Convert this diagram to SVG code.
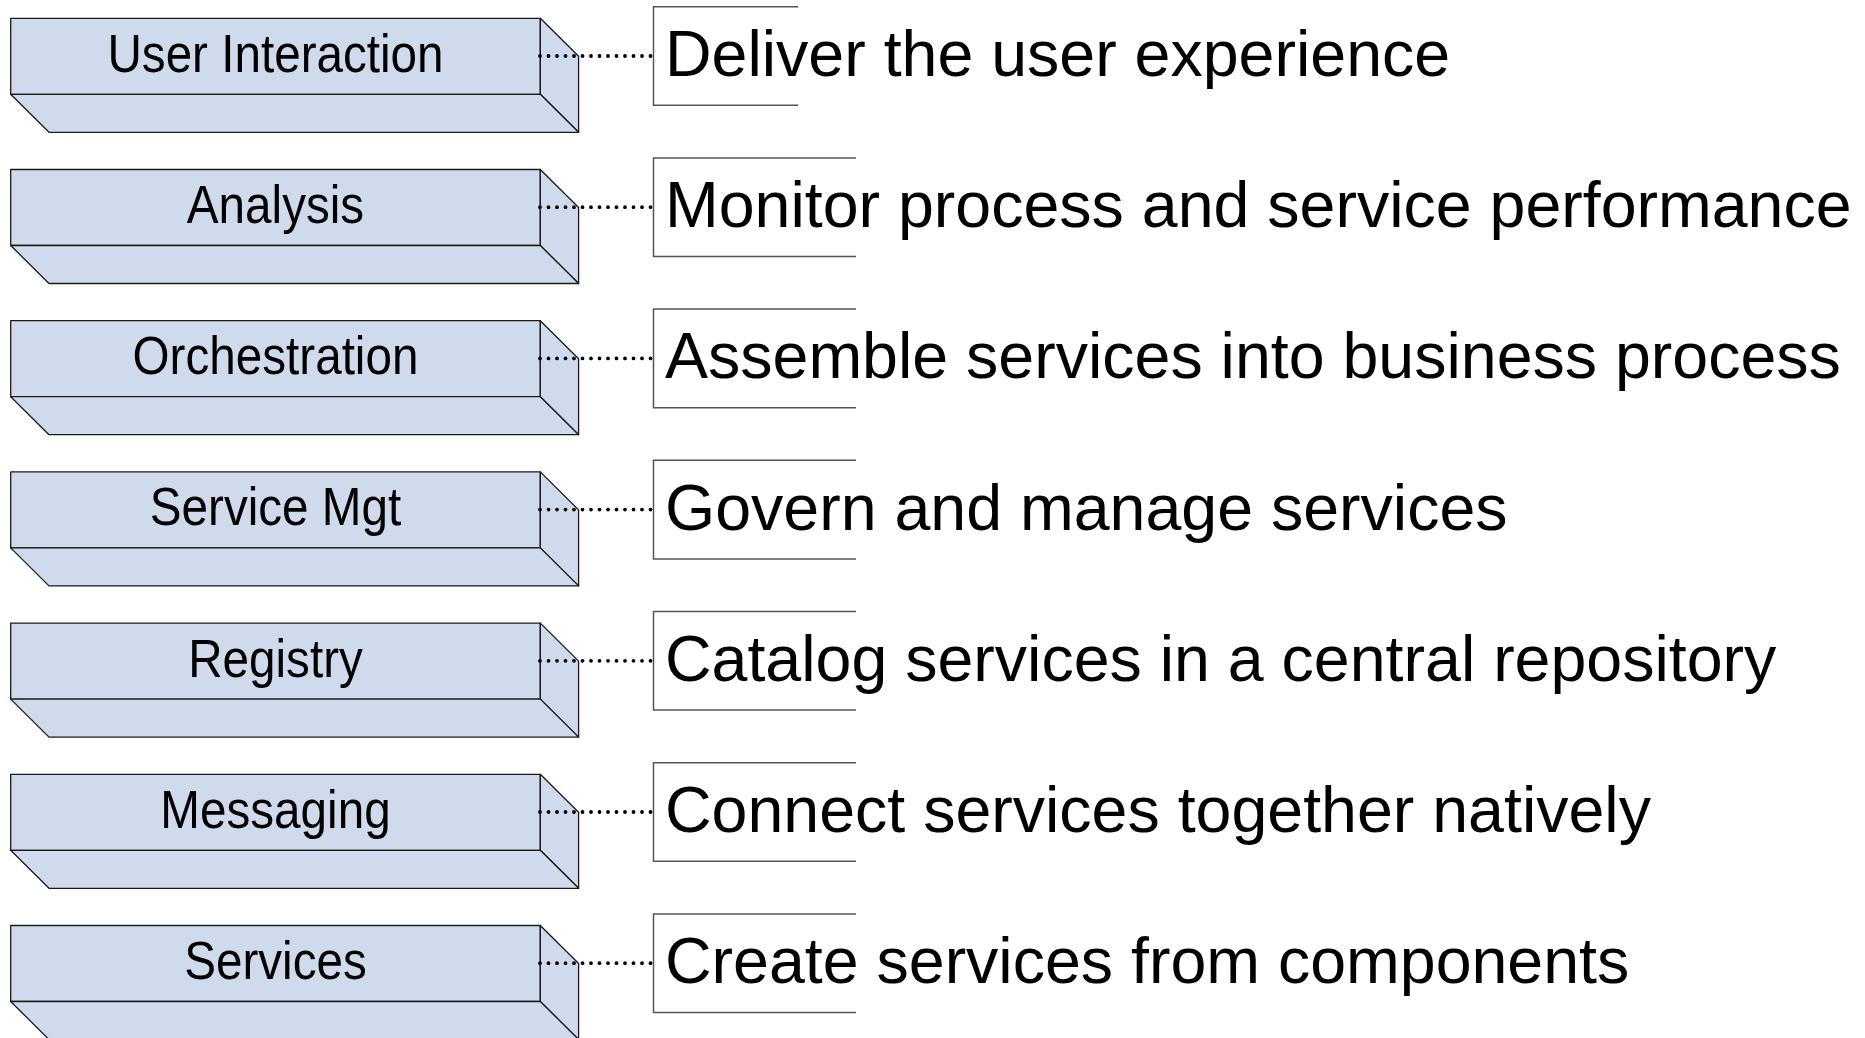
<svg xmlns="http://www.w3.org/2000/svg" width="1865" height="1038" viewBox="0 0 1865 1038">
  <style>
    .face { fill: #CFDBED; stroke: #1a1a1a; stroke-width: 1.3; stroke-linejoin: round; }
    .lbl { font-family: "Liberation Sans", Arial, sans-serif; font-size: 54px; fill: #000; text-anchor: middle; }
    .desc { font-family: "Liberation Sans", Arial, sans-serif; font-size: 64.5px; fill: #000; }
    .dbox { fill: none; stroke: #555; stroke-width: 1.5; }
    .dot { stroke: #000; stroke-width: 3.8; stroke-linecap: round; stroke-dasharray: 0 8.5; fill: none; }
  </style>
  <defs>
    <g id="block">
      <rect class="face" x="10.7" y="18.3" width="529.6" height="76"/>
      <polygon class="face" points="540.3,18.3 578.6,56.3 578.6,132.3 540.3,94.3"/>
      <polygon class="face" points="10.7,94.3 540.3,94.3 578.6,132.3 49,132.3"/>
    </g>
  </defs>

  <g id="nodes">
    <g id="user-interaction">
      <use href="#block"/>
      <text class="lbl" transform="translate(275.5,71.7) scale(0.882,1)">User Interaction</text>
    </g>
    <g id="analysis" transform="translate(0,151.2)">
      <use href="#block"/>
      <text class="lbl" transform="translate(275.5,71.7) scale(0.882,1)">Analysis</text>
    </g>
    <g id="orchestration" transform="translate(0,302.4)">
      <use href="#block"/>
      <text class="lbl" transform="translate(275.5,71.7) scale(0.882,1)">Orchestration</text>
    </g>
    <g id="service-mgt" transform="translate(0,453.6)">
      <use href="#block"/>
      <text class="lbl" transform="translate(275.5,71.7) scale(0.882,1)">Service Mgt</text>
    </g>
    <g id="registry" transform="translate(0,604.8)">
      <use href="#block"/>
      <text class="lbl" transform="translate(275.5,71.7) scale(0.882,1)">Registry</text>
    </g>
    <g id="messaging" transform="translate(0,756)">
      <use href="#block"/>
      <text class="lbl" transform="translate(275.5,71.7) scale(0.882,1)">Messaging</text>
    </g>
    <g id="services" transform="translate(0,907.2)">
      <use href="#block"/>
      <text class="lbl" transform="translate(275.5,71.7) scale(0.882,1)">Services</text>
    </g>

    <g id="desc-user-interaction">
      <path class="dbox" d="M798,6.7 H653.5 V105.3 H798"/>
      <text class="desc" x="665" y="76">Deliver the user experience</text>
    </g>
    <g id="desc-analysis" transform="translate(0,151.2)">
      <path class="dbox" d="M856,6.7 H653.5 V105.3 H856"/>
      <text class="desc" x="665" y="76">Monitor process and service performance</text>
    </g>
    <g id="desc-orchestration" transform="translate(0,302.4)">
      <path class="dbox" d="M856,6.7 H653.5 V105.3 H856"/>
      <text class="desc" x="665" y="76">Assemble services into business process</text>
    </g>
    <g id="desc-service-mgt" transform="translate(0,453.6)">
      <path class="dbox" d="M856,6.7 H653.5 V105.3 H856"/>
      <text class="desc" x="665" y="76">Govern and manage services</text>
    </g>
    <g id="desc-registry" transform="translate(0,604.8)">
      <path class="dbox" d="M856,6.7 H653.5 V105.3 H856"/>
      <text class="desc" x="665" y="76">Catalog services in a central repository</text>
    </g>
    <g id="desc-messaging" transform="translate(0,756)">
      <path class="dbox" d="M856,6.7 H653.5 V105.3 H856"/>
      <text class="desc" x="665" y="76">Connect services together natively</text>
    </g>
    <g id="desc-services" transform="translate(0,907.2)">
      <path class="dbox" d="M856,6.7 H653.5 V105.3 H856"/>
      <text class="desc" x="665" y="76">Create services from components</text>
    </g>
  </g>

  <g id="connectors">
    <line class="dot" x1="540" y1="56" x2="651" y2="56"/>
    <line class="dot" x1="540" y1="207.2" x2="651" y2="207.2"/>
    <line class="dot" x1="540" y1="358.4" x2="651" y2="358.4"/>
    <line class="dot" x1="540" y1="509.6" x2="651" y2="509.6"/>
    <line class="dot" x1="540" y1="660.8" x2="651" y2="660.8"/>
    <line class="dot" x1="540" y1="812" x2="651" y2="812"/>
    <line class="dot" x1="540" y1="963.2" x2="651" y2="963.2"/>
  </g>
</svg>
